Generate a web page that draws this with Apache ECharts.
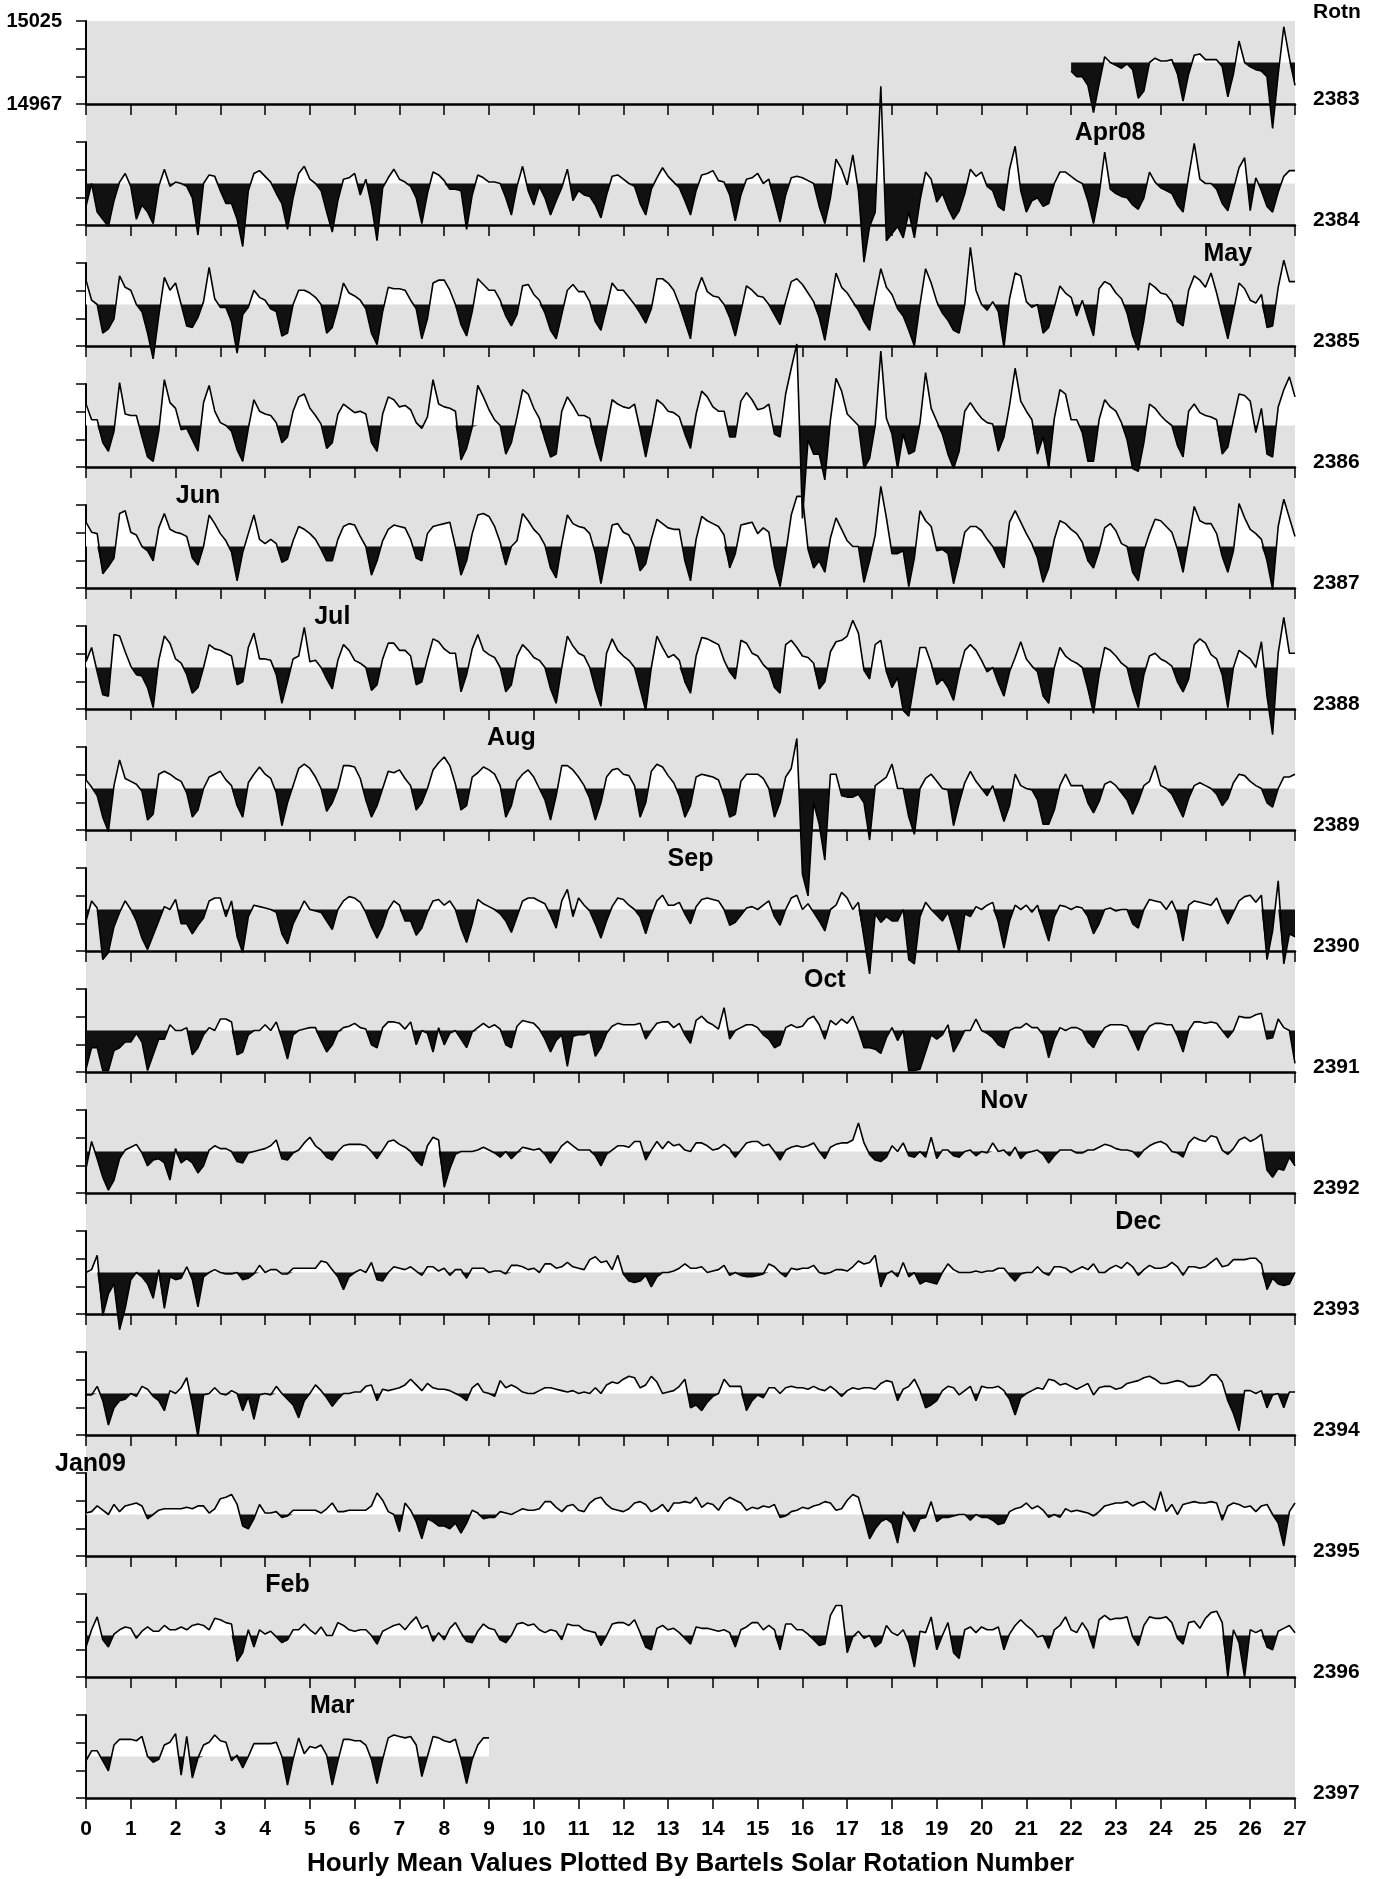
<!DOCTYPE html>
<html><head><meta charset="utf-8">
<script src="https://cdn.jsdelivr.net/npm/echarts@6/dist/echarts.min.js"></script>
<style>html,body{margin:0;padding:0;background:#fff}#c{width:1375px;height:1879px}</style>
</head><body><div id="c"></div><script>
// ---------------- DATA ----------------
const ROTATIONS = [2383,2384,2385,2386,2387,2388,2389,2390,2391,2392,2393,2394,2395,2396,2397];
const START_DAY = [22,0,0,0,0,0,0,0,0,0,0,0,0,0,0];
const SAMPLES_PER_DAY = 8;           // 3-hourly readings, deviation from panel reference level (nT)
const X_TICK_LABELS = ['0','1','2','3','4','5','6','7','8','9','10','11','12','13','14','15','16','17','18','19','20','21','22','23','24','25','26','27'];
const Y_TICK_LABELS = ['14967','15025'];   // bottom / top of first panel
const MONTH_LABELS = ['Apr08','May','Jun','Jul','Aug','Sep','Oct','Nov','Dec','Jan09','Feb','Mar'];
const MONTH_DAY    = [22.87, 25.5, 2.5, 5.5, 9.5, 13.5, 16.5, 20.5, 23.5, 0.1, 4.5, 5.5];
const MONTH_ROT    = [2384, 2385, 2387, 2388, 2389, 2390, 2391, 2392, 2393, 2395, 2396, 2397];
const TITLE = 'Hourly Mean Values Plotted By Bartels Solar Rotation Number';
const ROT_HEADER = 'Rotn';

const r2383 = [
-6,-10,-10,-16,-35,-15,4,0,
-2,-4,-1,-5,-25,-20,0,3,
1,1,2,-8,-27,-8,5,6,
2,2,2,-3,-24,-8,15,0,
-3,-5,-6,-10,-46,-8,25,3,
-16];
const r2384 = [
-16,0,-20,-25,-30,-12,1,7,
-2,-25,-15,-20,-28,-2,10,-2,
1,0,-2,-10,-36,0,6,5,
-5,-14,-14,-25,-44,-5,7,9,
5,1,-7,-14,-32,-10,7,12,
3,0,-5,-20,-34,-12,3,4,
7,-8,3,-15,-40,-3,4,10,
3,1,-2,-10,-28,-7,8,6,
2,-4,-4,-5,-32,-8,6,4,
1,1,0,-10,-22,-2,12,-5,
-15,-2,-10,-22,-12,-3,10,-12,
-5,-8,-9,-15,-24,-8,5,6,
3,0,-2,-14,-22,-4,4,11,
5,1,-3,-12,-22,-5,6,7,
9,2,1,-8,-26,-8,3,4,
7,0,3,-12,-27,-8,4,5,
4,2,0,-16,-28,-10,17,10,
-1,20,-5,-55,-30,-20,68,-40,
-35,-30,-38,-20,-38,-12,8,3,
-13,-7,-17,-25,-19,-7,10,5,
8,-2,-5,-16,-19,10,26,-5,
-20,-12,-10,-16,-14,0,8,8,
5,2,0,-12,-28,-8,22,-4,
-7,-9,-10,-15,-18,-10,8,1,
-3,-5,-7,-15,-20,5,28,3,
0,0,-4,-14,-19,-4,11,18,
-19,4,-5,-16,-20,-6,5,9,
9];
const r2385 = [
17,3,0,-20,-17,-10,20,12,
10,0,-5,-20,-38,-8,19,10,
15,0,-15,-16,-9,2,26,4,
-2,-2,-12,-34,-7,-2,10,5,
3,-3,-5,-22,-20,0,10,10,
8,5,0,-20,-16,-2,15,8,
6,3,-3,-20,-28,-5,12,11,
11,10,3,-3,-24,-10,15,17,
17,10,0,-14,-22,-5,18,14,
10,10,3,-8,-15,-7,13,14,
7,3,-6,-18,-24,-7,10,14,
9,9,2,-12,-18,-2,15,10,
10,5,0,-6,-13,-3,18,18,
15,10,0,-12,-24,8,19,9,
6,5,0,-9,-22,-5,13,10,
6,5,0,-7,-14,2,16,18,
14,8,2,-9,-25,-2,22,12,
8,2,-4,-12,-18,5,25,12,
7,-3,-8,-18,-29,0,25,15,
2,-6,-11,-18,-20,0,40,10,
0,-4,2,-5,-30,4,22,20,
2,-2,0,-20,-16,-2,13,8,
5,-8,3,-10,-22,11,16,14,
8,4,-6,-22,-32,-11,15,12,
8,7,2,-12,-15,10,20,17,
12,22,8,-8,-24,-5,15,11,
3,1,7,-16,-15,12,31,16,
16];
const r2386 = [
15,4,4,-12,-18,-4,30,8,
7,7,-8,-22,-25,-4,32,16,
12,-3,-2,-10,-18,16,28,10,
2,0,-4,-17,-25,-2,18,10,
8,7,2,-12,-8,10,20,22,
12,7,1,-16,-12,8,15,12,
9,10,8,-12,-18,8,20,18,
13,14,11,2,-2,6,32,15,
13,12,10,-24,-16,-1,28,20,
11,4,0,-20,-12,6,25,22,
12,5,-10,-22,-20,10,20,14,
7,7,5,-12,-25,-3,18,15,
13,12,15,-3,-22,-3,18,15,
10,9,6,-6,-16,8,24,20,
13,10,10,-8,-8,17,23,18,
11,12,15,-6,-8,22,40,57,
-65,-10,-20,-20,-38,4,33,24,
8,4,0,-30,-23,0,52,5,
-6,-30,-6,-20,-18,2,37,12,
3,-6,-20,-30,-18,10,16,10,
5,2,1,-18,-8,14,40,17,
10,4,-20,-8,-30,5,25,22,
4,4,-5,-25,-25,4,18,13,
10,2,-10,-30,-32,-12,15,12,
7,3,0,-14,-22,10,15,9,
7,6,4,-20,-15,4,22,21,
17,-5,12,-20,-22,13,25,34,
20];
const r2387 = [
17,10,9,-19,-14,-8,23,25,
10,8,0,-3,-10,13,23,12,
10,9,7,-8,-13,0,22,16,
9,4,-4,-24,-4,9,22,5,
2,5,2,-11,-9,4,14,12,
9,5,-2,-10,-10,5,14,16,
15,7,0,-20,-10,4,12,15,
14,13,5,-8,-10,9,14,15,
16,17,0,-20,-10,9,22,23,
21,14,3,-13,0,4,23,18,
12,8,1,-15,-22,2,22,16,
14,13,9,-5,-26,-5,15,16,
10,8,0,-17,-12,5,19,16,
13,12,12,-10,-24,5,21,18,
16,14,8,-15,-5,15,16,17,
9,13,10,-14,-28,-5,22,35,
35,-2,-15,-10,-18,6,20,12,
4,0,0,-25,-10,8,42,20,
-5,-5,-3,-28,-8,25,18,14,
-3,-2,-5,-26,-10,10,14,14,
11,5,0,-8,-15,17,25,17,
9,2,-8,-25,-15,5,18,16,
12,9,3,-10,-15,-3,13,16,
11,2,0,-18,-24,-3,9,19,
18,14,10,-2,-18,5,28,18,
16,16,9,-7,-18,-3,30,20,
12,9,5,-10,-30,14,33,20,
7];
const r2388 = [
4,14,-3,-19,-20,23,22,11,
1,-5,-6,-14,-28,5,22,17,
6,3,-5,-18,-14,0,16,13,
12,10,8,-12,-10,14,24,6,
6,5,-5,-25,-10,6,8,28,
4,5,0,-8,-15,5,16,12,
5,3,0,-16,-12,6,17,17,
12,12,8,-12,-10,6,20,18,
13,10,10,-17,-5,13,23,12,
9,7,0,-17,-12,8,16,12,
7,5,0,-15,-25,0,22,15,
10,8,0,-15,-27,10,20,12,
8,5,0,-15,-30,0,22,14,
7,9,5,-10,-18,8,21,20,
18,16,5,-3,-8,19,17,10,
8,2,-2,-14,-18,16,19,14,
8,7,3,-15,-10,11,18,19,
22,33,24,-2,-8,16,19,-3,
-14,-7,-30,-34,-10,14,14,3,
-12,-8,-14,-23,-3,12,16,12,
5,-3,0,-11,-20,-3,7,18,
6,1,-3,-20,-25,0,14,8,
5,3,0,-15,-32,-5,14,12,
8,3,0,-16,-28,-5,8,10,
6,4,1,-10,-17,-8,16,20,
17,9,6,-5,-28,0,12,9,
6,0,18,-20,-47,10,35,10,
10];
const r2389 = [
6,1,-5,-20,-30,2,20,7,
5,3,-2,-22,-18,10,12,10,
7,5,-3,-20,-15,0,8,10,
12,6,2,-12,-20,4,10,15,
10,7,-3,-26,-10,2,14,17,
14,8,0,-16,-10,0,16,16,
15,7,-8,-20,-12,0,12,11,
13,7,2,-15,-10,0,13,18,
22,16,3,-15,-12,8,11,15,
13,10,2,-20,-12,5,10,13,
8,0,-8,-22,-5,16,16,13,
8,2,-7,-22,-10,8,13,14,
10,9,2,-20,-10,12,17,15,
9,4,-5,-20,-12,8,10,9,
8,6,-5,-20,-18,5,10,10,
10,7,0,-20,-10,8,14,35,
-60,-75,-10,-25,-50,10,10,-5,
-6,-6,-4,-10,-36,2,5,8,
17,0,0,-20,-32,0,7,10,
5,0,-1,-26,-10,4,12,5,
0,-5,2,-10,-23,-12,10,2,
0,-1,-8,-25,-25,-15,2,10,
2,2,2,-10,-17,-9,3,5,
2,-3,-8,-18,-9,2,5,16,
2,0,-4,-12,-20,-7,2,4,
2,0,-4,-12,-7,4,10,9,
5,2,0,-10,-13,0,8,8,
10];
const r2390 = [
-8,6,1,-35,-30,-12,-2,6,
0,-8,-20,-28,-18,-8,2,0,
7,-10,-10,-17,-11,-6,6,8,
8,-5,6,-19,-30,-5,3,2,
1,0,-2,-17,-24,-10,-2,6,
0,-1,-2,-8,-14,0,6,9,
8,5,-2,-12,-20,-12,0,6,
3,-8,-8,-18,-13,-2,6,7,
3,6,0,-13,-23,-10,7,4,
2,0,-3,-8,-16,-5,6,8,
8,6,4,-4,-13,6,14,-5,
8,3,-1,-10,-20,-8,2,8,
7,3,0,-5,-17,-4,6,10,
3,3,5,-3,-10,2,7,8,
7,6,0,-11,-9,-4,1,2,
0,3,6,-5,-11,0,8,10,
0,4,-2,-8,-15,0,3,12,
8,0,5,-20,-45,-3,-9,-5,
-8,-8,0,-35,-38,-5,5,0,
-4,-8,-2,-15,-30,-3,-5,2,
0,3,5,-9,-27,-8,3,0,
3,-2,3,-10,-22,-5,3,2,
0,2,1,-5,-17,-10,0,1,
-1,0,0,-10,-13,0,7,6,
5,0,6,-3,-22,3,6,5,
4,3,8,-2,-10,-2,6,9,
10,5,10,-35,-15,20,-38,-17,
-19];
const r2391 = [
-27,-12,-12,-28,-28,-14,-12,-8,
-8,-2,-8,-28,-17,-6,-6,4,
0,0,2,-17,-12,-3,2,0,
8,8,6,-17,-15,-3,0,0,
4,0,6,-6,-20,-3,0,1,
2,2,-7,-15,-10,-1,2,3,
5,2,1,-10,-12,2,6,6,
5,1,6,-10,0,-2,-15,2,
-10,-2,0,-6,-12,-1,2,5,
2,4,1,-10,-12,3,7,6,
5,1,-6,-15,-7,-3,-25,-4,
-3,-3,-1,-18,-12,-2,3,5,
4,4,4,5,-6,0,5,6,
6,2,5,-3,-9,7,10,6,
4,1,16,-6,0,2,4,4,
2,-3,-6,-12,-10,2,4,2,
3,8,10,4,-6,7,4,8,
5,10,0,-12,-12,-13,-16,-5,
2,-7,0,-28,-28,-27,-15,-3,
-6,-3,4,-15,-8,0,0,8,
0,-2,-5,-10,-12,0,2,2,
5,2,2,-3,-19,-6,2,0,
2,2,0,-8,-12,-4,2,4,
4,4,3,-5,-14,-3,3,5,
5,4,4,-4,-15,0,6,6,
5,6,5,0,-5,0,10,9,
9,11,12,-6,-5,8,2,0,
-23];
const r2392 = [
-12,7,-5,-18,-27,-20,-5,1,
3,5,-1,-10,-6,-5,-8,-20,
2,-8,-5,-8,-15,-10,1,4,
2,2,0,-7,-8,-1,0,1,
2,4,8,-5,-6,-1,1,6,
10,4,1,-4,-6,0,4,5,
5,5,4,0,-5,1,7,8,
5,3,0,-6,-10,4,10,8,
-25,-12,-2,0,0,0,1,3,
1,-1,-4,0,-5,-1,3,2,
1,2,-2,-8,-2,4,7,4,
1,1,1,-3,-10,-2,1,4,
4,3,7,7,-6,1,7,2,
7,4,5,1,0,6,6,4,
1,2,5,2,-4,1,6,7,
7,4,5,0,-6,1,3,4,
3,4,6,0,-5,3,5,6,
6,8,20,6,-2,-6,-7,-4,
4,0,6,-3,-4,0,-4,10,
-5,1,1,-3,-4,0,1,-3,
0,-1,6,0,1,-3,3,-5,
-1,0,1,-2,-8,-3,1,1,
1,-1,-1,1,1,3,5,4,
2,1,1,0,-4,1,4,6,
7,5,0,-1,-4,6,10,8,
7,11,10,1,-2,2,8,10,
7,9,12,-13,-18,-12,-13,-4,
-10];
const r2393 = [
0,2,12,-30,-15,-8,-40,-25,
-5,0,-3,-8,-18,2,-25,-3,
-5,-4,4,-5,-24,-3,0,2,
0,-1,-1,0,-5,-4,-1,5,
0,2,2,-1,-1,3,3,3,
3,3,8,7,2,-3,-12,-3,
0,2,0,7,-5,-6,0,4,
3,2,4,1,-2,4,4,1,
3,-2,2,2,-4,3,3,3,
0,1,1,-1,5,5,4,2,
3,0,6,6,3,4,7,4,
3,2,9,11,7,8,2,12,
-1,-6,-7,-6,-2,-10,-3,0,
0,1,3,6,3,3,4,0,
1,2,5,-2,0,-2,-3,-3,
-2,-1,6,4,0,-3,3,2,
3,3,5,0,-1,0,2,2,
1,4,8,6,7,12,-10,-1,
1,-3,7,-3,0,-8,-6,-7,
-8,0,6,2,0,0,0,1,
0,1,1,3,3,-2,-6,-1,
0,0,4,0,-2,4,4,3,
0,2,4,2,6,0,0,3,
5,3,7,4,-2,2,5,3,
3,4,7,4,-2,4,4,3,
4,7,10,4,5,9,9,9,
10,10,6,-12,-4,-8,-9,-8,
0];
const r2394 = [
-1,-1,5,-5,-22,-10,-5,-4,
0,-2,5,3,-2,-5,-12,2,
0,4,11,-8,-30,-1,0,4,
0,-1,2,0,-12,-2,-18,-1,
0,-1,5,0,-4,-8,-17,-5,
0,6,2,-3,-9,-4,0,0,
1,1,5,6,-5,3,2,3,
4,6,10,6,2,7,4,3,
3,2,0,-2,-5,4,7,1,
0,-2,9,4,6,4,1,0,
0,2,4,4,3,2,1,2,
0,1,0,4,0,6,8,7,
10,12,11,4,6,12,8,0,
1,2,5,10,-10,-8,-12,-6,
-2,0,10,5,5,5,-12,-5,
-1,-3,4,4,0,4,5,4,
4,3,5,3,2,5,2,-2,
2,4,3,4,4,3,7,9,
8,-5,3,5,10,2,-10,-8,
-5,2,5,4,-1,2,5,-5,
5,4,4,5,2,-4,-15,-3,
0,2,4,3,10,9,6,7,
5,3,5,7,-1,4,5,5,
3,4,7,8,9,11,12,10,
7,7,8,9,8,5,5,6,
9,13,13,8,-5,-14,-26,2,
2,0,2,-10,-1,0,-10,1,
1];
const r2395 = [
1,2,6,3,0,7,2,6,
7,8,6,-3,0,3,4,4,
4,4,5,4,6,6,1,4,
11,12,14,7,-8,-10,-3,7,
1,1,2,-2,-1,3,3,3,
3,3,1,4,8,2,2,3,
3,3,3,6,15,10,2,0,
-12,8,3,-5,-17,-3,-5,-8,
-8,-10,-6,-13,-6,3,1,-3,
-2,-2,2,1,0,2,4,3,
3,4,9,9,5,2,6,7,
3,2,8,11,12,7,4,3,
2,4,8,9,7,2,4,7,
2,8,8,9,8,12,5,8,
7,3,9,12,10,8,3,5,
4,6,5,7,-2,-1,2,3,
5,4,6,7,9,8,3,4,
10,14,12,-2,-17,-10,-5,-3,
-6,-20,2,-4,-12,-3,-2,9,
-5,-2,-2,-1,0,0,-4,0,
-2,-2,-4,-7,-6,2,4,5,
8,4,6,3,-2,0,-2,4,
2,3,2,1,-1,2,6,7,
8,8,9,6,8,9,6,3,
16,2,7,0,7,8,9,8,
8,9,8,-4,6,8,7,5,
6,2,6,7,0,-6,-22,2,
8];
const r2396 = [
-8,4,13,-3,-8,1,4,6,
5,-2,3,6,3,3,7,4,
4,6,4,7,8,7,4,12,
11,9,8,-18,-12,4,-8,4,
1,3,-1,-5,-3,4,4,8,
4,1,6,0,0,9,7,4,
3,4,4,0,-6,3,5,7,
8,4,9,13,5,7,-4,2,
-3,5,9,2,-4,-5,3,8,
5,4,-3,-5,0,8,9,7,
8,4,2,4,3,-3,8,7,
7,4,3,2,-7,0,8,9,
9,7,11,2,-8,-10,5,7,
4,5,2,-2,-6,6,5,5,
4,3,4,2,-8,4,6,9,
9,4,7,4,-10,8,8,4,
4,1,-3,-7,-6,14,21,21,
-12,-1,3,-2,0,-8,-5,7,
2,0,4,-5,-22,3,2,13,
-10,0,9,-12,-16,4,6,2,
6,4,4,6,-10,1,7,11,
7,4,-1,0,-9,4,7,13,
4,2,9,3,-9,11,14,11,
12,12,13,-1,-7,7,13,12,
12,13,9,-2,-6,9,10,5,
12,16,17,9,-29,4,-5,-29,
4,2,4,-8,-10,3,5,7,
2];
const r2397 = [
-3,4,4,-3,-10,8,12,12,
12,11,14,0,-4,-2,8,10,
16,-13,14,-15,-1,8,10,15,
11,10,-3,1,-8,0,9,9,
9,9,10,0,-20,-2,13,2,
7,6,8,1,-20,-3,12,12,
11,11,8,-2,-19,-2,13,15,
14,13,14,8,-14,0,14,13,
11,10,12,-2,-19,-2,8,13,
13];
const PANEL_VALUES = [r2383,r2384,r2385,r2386,r2387,r2388,r2389,r2390,r2391,r2392,r2393,r2394,r2395,r2396,r2397];

// ---------------- LAYOUT / STYLE ----------------
const PLOT_LEFT = 86, PLOT_W = 1209;
const FIRST_BASE = 104, STEP = 121, PANEL_H = 83;
const Y_HALF = 29;                      // panel spans reference +/- 29 nT
const MONTH_LEVEL = 35.3;               // month labels sit above each panel's frame
const FONT = '"Liberation Sans", Arial, Helvetica, sans-serif';
const GRAY = '#e1e1e1';

// split a polyline into the part above / below the reference level (crossings kept exact)
function splitAtReference(pts) {
  const up = [], dn = [];
  for (let k = 0; k < pts.length; k++) {
    const [x, v] = pts[k];
    if (k > 0) {
      const [x0, v0] = pts[k - 1];
      if ((v0 > 0 && v < 0) || (v0 < 0 && v > 0)) {
        const xc = x0 + (x - x0) * v0 / (v0 - v);
        up.push([xc, 0]); dn.push([xc, 0]);
      }
    }
    up.push([x, Math.max(v, 0)]);
    dn.push([x, Math.min(v, 0)]);
  }
  return {up, dn};
}

const chart = echarts.init(document.getElementById('c'), null, {renderer:'canvas', width:1375, height:1879});
const grids = [], xAxes = [], yAxes = [], series = [];
const nP = ROTATIONS.length;
ROTATIONS.forEach((rot, i) => {
  const base = FIRST_BASE + STEP * i;
  grids.push({left: PLOT_LEFT, top: base - PANEL_H, width: PLOT_W, height: PANEL_H, show: false});
  const last = i === nP - 1;
  xAxes.push({
    gridIndex: i, type: 'value', min: 0, max: 27, interval: 1, position: 'bottom',
    axisLine: {show: true, onZero: false, lineStyle: {color: '#000', width: 2.5}},
    axisTick: {show: true, length: 11, lineStyle: {color: '#000', width: 1.5}},
    splitLine: {show: false},
    axisLabel: {show: last, margin: 21, color: '#000', fontWeight: 'bold', fontSize: 21, fontFamily: FONT,
      showMinLabel: true, showMaxLabel: true,
      formatter: v => { const k = Math.round(v); return X_TICK_LABELS[k] !== undefined ? X_TICK_LABELS[k] : ''; }}
  });
  yAxes.push({
    gridIndex: i, type: 'value', min: -Y_HALF, max: Y_HALF, interval: 2 * Y_HALF / 3,
    axisLine: {show: true, onZero: false, lineStyle: {color: '#000', width: 2}},
    axisTick: {show: true, length: 10, lineStyle: {color: '#000', width: 1.5}},
    splitLine: {show: false},
    axisLabel: {show: i === 0, margin: 24, color: '#000', fontWeight: 'bold', fontSize: 20, fontFamily: FONT,
      showMinLabel: true, showMaxLabel: true,
      formatter: v => (Math.abs(v + Y_HALF) < 0.01 ? Y_TICK_LABELS[0] : (Math.abs(v - Y_HALF) < 0.01 ? Y_TICK_LABELS[1] : ''))}
  });
  const data = PANEL_VALUES[i].map((v, k) => [START_DAY[i] + k / SAMPLES_PER_DAY, v]);
  const parts = splitAtReference(data);
  series.push({type: 'line', xAxisIndex: i, yAxisIndex: i, data: parts.up, symbol: 'none', showSymbol: false,
    lineStyle: {width: 0}, itemStyle: {color: '#ffffff'}, areaStyle: {color: '#ffffff', opacity: 1, origin: 'auto'},
    clip: false, silent: true, z: 2, animation: false});
  series.push({type: 'line', xAxisIndex: i, yAxisIndex: i, data: parts.dn, symbol: 'none', showSymbol: false,
    lineStyle: {width: 0}, itemStyle: {color: '#111111'}, areaStyle: {color: '#111111', opacity: 1, origin: 'auto'},
    clip: false, silent: true, z: 2, animation: false});
  series.push({type: 'line', xAxisIndex: i, yAxisIndex: i, data: data, symbol: 'none', showSymbol: false,
    lineStyle: {color: '#000', width: 1.6}, itemStyle: {color: '#000'}, clip: false, silent: true, z: 3, animation: false});
});

chart.setOption({
  animation: false,
  backgroundColor: '#ffffff',
  grid: grids, xAxis: xAxes, yAxis: yAxes, series: series
});

// graphics: background, rotation numbers, month labels, title
const g = [];
const lastBase = FIRST_BASE + STEP * (nP - 1);
g.push({type: 'rect', z: -100, silent: true,
  shape: {x: PLOT_LEFT, y: FIRST_BASE - PANEL_H, width: PLOT_W, height: lastBase - (FIRST_BASE - PANEL_H)},
  style: {fill: GRAY}});
g.push({type: 'text', silent: true, z: 10, style: {text: ROT_HEADER, x: 1313, y: 12, font: 'bold 21px ' + FONT,
  fill: '#000', textAlign: 'left', textVerticalAlign: 'middle'}});
ROTATIONS.forEach((rot, i) => {
  const base = FIRST_BASE + STEP * i;
  g.push({type: 'text', silent: true, z: 10, style: {text: String(rot), x: 1313, y: base - 5, font: 'bold 21px ' + FONT,
    fill: '#000', textAlign: 'left', textVerticalAlign: 'middle'}});
});
MONTH_LABELS.forEach((lab, k) => {
  const gi = ROTATIONS.indexOf(MONTH_ROT[k]);
  const p = chart.convertToPixel({xAxisIndex: gi, yAxisIndex: gi}, [MONTH_DAY[k], MONTH_LEVEL]);
  g.push({type: 'text', silent: true, z: 10, style: {text: lab, x: p[0], y: p[1], font: 'bold 25px ' + FONT,
    fill: '#000', textAlign: 'center', textVerticalAlign: 'middle'}});
});
g.push({type: 'text', silent: true, z: 10, style: {text: TITLE, x: PLOT_LEFT + PLOT_W / 2, y: 1864,
  font: 'bold 26px ' + FONT, fill: '#000', textAlign: 'center', textVerticalAlign: 'middle'}});
chart.setOption({graphic: {elements: g}});
</script></body></html>
